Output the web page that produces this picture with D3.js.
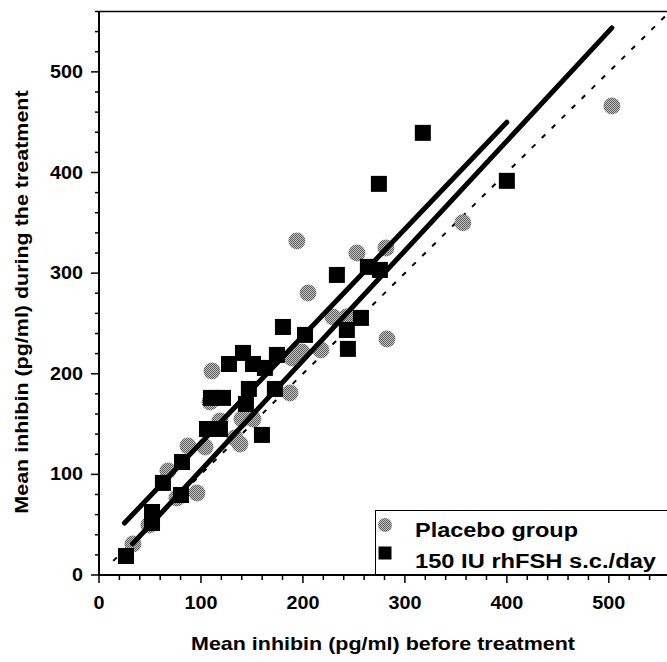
<!DOCTYPE html>
<html><head><meta charset="utf-8">
<script src="https://cdn.jsdelivr.net/npm/d3@7/dist/d3.min.js"></script>
<style>html,body{margin:0;padding:0;background:#fff;}svg{display:block;}</style>
</head><body>
<svg id="chart" width="667" height="662"></svg>
<script>
// Placebo group (x: before, y: during)
const placeboX = [33.3,49.0,67.6,76.5,96.1,87.3,104,108.8,110.8,118.6,140.2,151,133.3,138.2,187.3,189.2,194.1,205,199,217.6,229.4,243.1,253,281.4,282.4,356.9,503];
const placeboY = [30.8,49.7,103.4,76.5,81.5,128.2,127.2,172,202.8,153.1,155.1,155.1,136.2,130.2,180.9,215.7,332,280.3,221.7,223.7,256.4,256.4,320,325,234.6,350,466];
// 150 IU rhFSH s.c./day
const fshX = [26.5,52,52,62.7,80.4,81.4,105.9,118.6,109.8,121.6,144.1,147,159.8,172.5,162.7,127.5,141.2,151,174.5,180.4,202,233.3,243.1,244.1,256.9,263.7,275.5,274.5,317.6,400];
const fshY = [18.9,62.6,51.7,91.5,79.5,112.3,145.1,145.1,176,176,170,184.9,139.2,184.9,205.8,209.7,220.7,209.7,218.7,246.5,238.6,298.2,243.5,224.7,255.5,306.2,303.2,388.7,439.4,391.7];
// regression lines [x0,y0,x1,y1]
const fshLine = [25, 51.7, 400, 450];
const placeboLine = [33, 31, 503, 543.7];
const identityLine = [14, 14, 560, 560];
const xTicks = [0,100,200,300,400,500];
const yTicks = [0,100,200,300,400,500];
const legendLabels = ["Placebo group","150 IU rhFSH s.c./day"];

const svg = d3.select("#chart");
const x = d3.scaleLinear().domain([0,560]).range([99,670]);
const y = d3.scaleLinear().domain([0,560]).range([575,11.5]);

const defs = svg.append("defs");
const pat = defs.append("pattern").attr("id","half").attr("patternUnits","userSpaceOnUse")
  .attr("width",2).attr("height",2);
pat.append("rect").attr("width",2).attr("height",2).attr("fill","#c4c4c4");
pat.append("rect").attr("width",1).attr("height",1).attr("fill","#5c5c5c");
pat.append("rect").attr("x",1).attr("y",1).attr("width",1).attr("height",1).attr("fill","#5c5c5c");

const font = "'Liberation Sans', Arial, Helvetica, sans-serif";
const SX = 1.13;

// frame top
svg.append("line").attr("x1",x(0)).attr("x2",667).attr("y1",y(560)).attr("y2",y(560))
  .attr("stroke","#000").attr("stroke-width",1.5);

// identity dashed
svg.append("line").attr("x1",x(identityLine[0])).attr("y1",y(identityLine[1]))
  .attr("x2",x(identityLine[2])).attr("y2",y(identityLine[3]))
  .attr("stroke","#000").attr("stroke-width",2).attr("stroke-dasharray","5,9");

// circles
const pData = placeboX.map((d,i)=>({x:d,y:placeboY[i]}));
svg.append("g").selectAll("circle").data(pData).join("circle")
  .attr("cx",d=>x(d.x)).attr("cy",d=>y(d.y)).attr("r",8.5).attr("fill","url(#half)");

// regression lines
[fshLine, placeboLine].forEach(l=>{
  svg.append("line").attr("x1",x(l[0])).attr("y1",y(l[1])).attr("x2",x(l[2])).attr("y2",y(l[3]))
    .attr("stroke","#000").attr("stroke-width",5).attr("stroke-linecap","round");
});

// squares
const fData = fshX.map((d,i)=>({x:d,y:fshY[i]}));
const sq = 16;
svg.append("g").selectAll("rect").data(fData).join("rect")
  .attr("x",d=>x(d.x)-sq/2).attr("y",d=>y(d.y)-sq/2).attr("width",sq).attr("height",sq).attr("fill","#000");

// legend
const lg = svg.append("g");
lg.append("rect").attr("x",375.5).attr("y",510.5).attr("width",300).attr("height",64)
  .attr("fill","#fff").attr("stroke","#000").attr("stroke-width",1);
lg.append("circle").attr("cx",385).attr("cy",525).attr("r",7).attr("fill","url(#half)");
lg.append("rect").attr("x",378.5).attr("y",546.5).attr("width",13).attr("height",13).attr("fill","#000");
const legW = [163, 241];
lg.selectAll("text").data(legendLabels).join("text")
  .attr("x",415).attr("y",(d,i)=>537+i*31).attr("font-family",font).attr("font-weight","bold")
  .attr("font-size",20).attr("fill","#000")
  .attr("textLength",(d,i)=>legW[i]).attr("lengthAdjust","spacingAndGlyphs").text(d=>d);

// axes
const xMinor = d3.range(0,561,20);
const yMinor = d3.range(0,561,20);
const gx = svg.append("g");
gx.append("line").attr("x1",x(0)).attr("x2",667).attr("y1",y(0)).attr("y2",y(0)).attr("stroke","#000").attr("stroke-width",2);
gx.selectAll("line.t").data(xMinor).join("line").attr("class","t")
  .attr("x1",d=>x(d)).attr("x2",d=>x(d)).attr("y1",y(0)).attr("y2",d=>y(0)+(d%100===0?8:5))
  .attr("stroke","#000").attr("stroke-width",1.5);
gx.selectAll("text").data(xTicks).join("text")
  .attr("transform",d=>`translate(${x(d)},609) scale(${SX},1)`).attr("text-anchor","middle").attr("font-family",font)
  .attr("font-weight","bold").attr("font-size",17.5).text(d=>d);

const gy = svg.append("g");
gy.append("line").attr("x1",x(0)).attr("x2",x(0)).attr("y1",y(0)+1).attr("y2",y(560)).attr("stroke","#000").attr("stroke-width",2);
gy.selectAll("line.t").data(yMinor).join("line").attr("class","t")
  .attr("x1",x(0)).attr("x2",d=>x(0)-(d%100===0?8:4)).attr("y1",d=>y(d)).attr("y2",d=>y(d))
  .attr("stroke","#000").attr("stroke-width",1.5);
gy.selectAll("text").data(yTicks).join("text")
  .attr("transform",d=>`translate(83,${y(d)+6}) scale(${SX},1)`).attr("text-anchor","end").attr("font-family",font)
  .attr("font-weight","bold").attr("font-size",17.5).text(d=>d);

// titles
svg.append("text").attr("transform",`translate(383,650) scale(${SX},1)`).attr("text-anchor","middle").attr("font-family",font)
  .attr("font-weight","bold").attr("font-size",19).text("Mean inhibin (pg/ml) before treatment");
svg.append("text").attr("transform",`translate(28,302) rotate(-90) scale(${SX},1)`).attr("text-anchor","middle")
  .attr("font-family",font).attr("font-weight","bold").attr("font-size",19)
  .text("Mean inhibin (pg/ml) during the treatment");
</script>
</body></html>
